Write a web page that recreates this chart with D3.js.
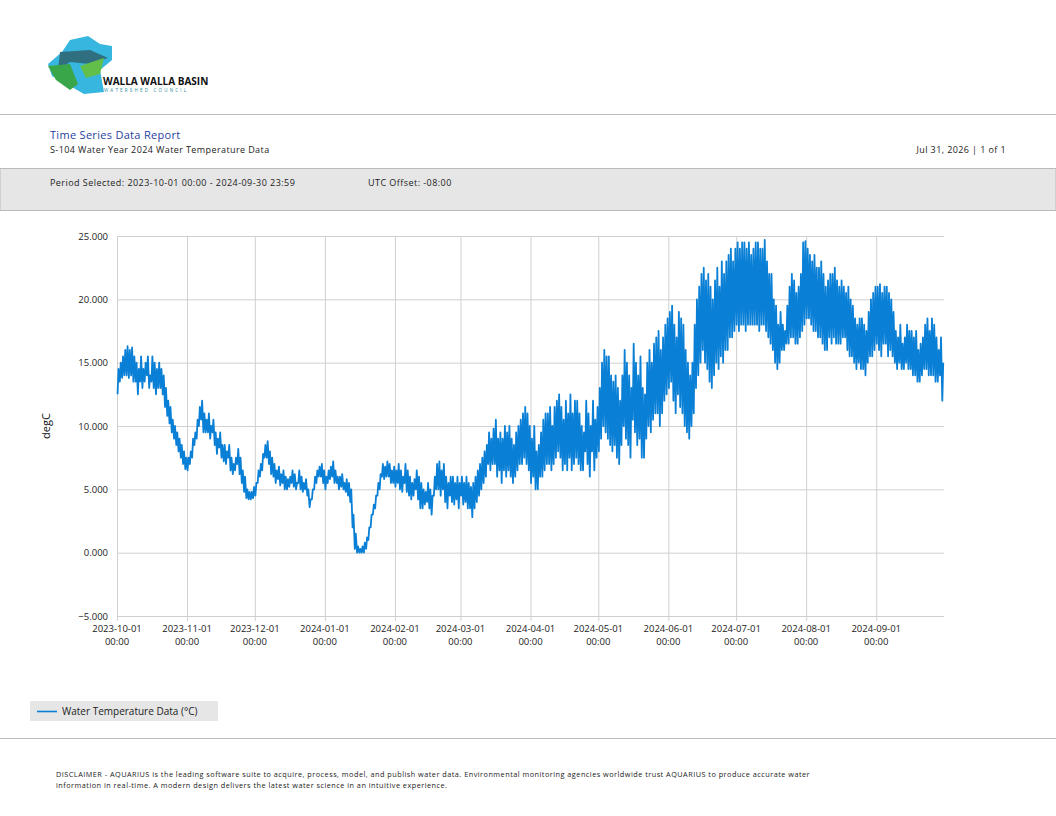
<!doctype html>
<html>
<head>
<meta charset="utf-8"/>
<title>Time Series Data Report</title>
<script src="https://d3js.org/d3.v7.min.js"></script>
<style>
body { margin:0; background:#fff; }
text { font-family: "Open Sans", sans-serif; }
</style>
</head>
<body>
<script>
var dailyMax = [
 14.5,15,15.5,16,16.3, 16,16.2,15.5,15,14.5, 15.5,14.5,15,15.5,14, 15.5,15,14.5,15,14.5, 14,13,12,11.5,10.5, 10,9.5,9,8.5,8,7.5,
 7.5,8,9,9.5,10.5, 11.5,12,11,10.5,11, 10,10.5,9.5,9,9.5, 8.5,8.5,8,8.5,7.5, 7,7.5,8.2,7.5,6.5, 6,5,4.8,4.8,5.2,
 5.5,6.5,7,7.8,8.5, 8.8,8,7.5,7,6.5, 6.8,6.2,6.5,6,5.8, 6,6.5,6.2,5.5,6.5, 6,5.5,5.8,5,4.2, 5,6,6.5,6.8,7,6.5,
 6,6.5,6.8,7.2,6.5, 6,6,6.2,5.5,5.8, 5.5,5,3,1.5,0.5, 0.3,0.5,0.8,1.2,2, 3,3.8,4.5,5.5,6.2, 7,6.8,7.2,7,6.5,6.8,
 6.5,7,6.5,6,7, 6.5,6,5.5,5.8,6.5, 6,5.5,5,4.8,5.5, 5,4.5,6,7,7.2, 6.5,7,6,5.5,6, 6,5.5,6,5.5,
 6,5.5,6,5.5,5.2, 5.5,6,6.5,7,7.5, 8,8.5,9.5,9,9.8, 10.5,9,9.5,9,10, 9.5,10,9,8.5,9.5, 10,10.5,11,11.5,11,10,
 9,10,8,8.5,9.5, 10.5,11,11,11.5,10, 11.5,12,12.5,11.5,10.5, 12,11,12.5,11,12, 12,11,10,9.5,12, 11,10,12,10.5,11.5,
 13,15,16,15.5,15.5, 14,13.5,14,13,12, 14,16,15,14,13, 16.5,15,14,15.5,13, 12.5,15,16,15,16.5, 17,17.5,16,17,18,18.5,
 19,19.5,18,17,19, 18.5,18,16,15,14, 15,18,20,21,22, 22.5,21.5,22,21,20, 21.5,22.5,21,23,22, 23,23.5,24,23,24,
 24.5,24,24.5,24.5,24, 24.5,23.5,24,24.5,24.5, 24,24,24.7,23,22, 22,20,19.5,18,19, 18,17.5,19.5,21,22, 21.5,20.5,21,22,24.5,24.6,
 24,23.5,23,23.5,22.5, 22.5,23,22,21,21.5, 22,22,22.5,21.5,21, 21.5,21,20.5,21,20, 19.5,18.5,18,18.5,18.5, 18,17.5,19,20,20.5,21,
 21,21.2,20.5,21,21, 20.5,20,19,17.5,17, 18,16.5,17,18,17.5, 17.5,17,17.5,16,16.5, 17,18,18.5,17.5,18.5, 18,17,16,17,15
];
var dailyMin = [
 12.5,13.5,13.8,14,14, 13.8,14,13.5,13.5,12.5, 13.5,13,13.5,14,13, 13.5,13,12.5,13,13, 12.5,11.5,10.8,10.2,9.5, 9,8.5,8,7.5,7,6.6,
 6.5,7,7.5,8.5,9, 10,10.5,9.5,9.5,9.5, 9,9.5,8.5,7.8,8.3, 7.5,7.2,7,7.5,6.5, 6.2,6.5,7,6.2,5.5, 4.8,4.3,4.2,4.2,4.3,
 4.5,5.5,6,6.5,7.5, 7.5,7,6.2,6,5.5, 5.8,5.3,5.5,5,5, 5.2,5.5,5.2,5,5.5, 5,4.8,5,4.5,3.6, 4.2,5,5.5,6,6,5.5,
 5,5.5,5.8,6,5.5, 5.5,5,5.2,5,4.8, 4.5,4,2,0.3,0, 0,0,0,0.3,1, 2,3,3.5,4.5,5, 6,5.8,6,6,5.5,5.5,
 5.2,5.5,5,4.8,5.5, 4.8,4.5,4.2,4.5,5, 4.2,3.5,3.5,3.8,4, 3.5,3,4.5,5,5, 4.5,5,4,3.5,4.5, 4,3.8,4.2,3.5,
 4.5,3.8,4,3.5,3.5, 2.8,3.5,4,4.5,5, 5.5,6,7,6.5,7, 7,6,6.5,5.5,6.5, 6,6.5,6,5.5,6, 6.5,7,7,7.5,7,6.5,
 5.5,6,5,5,6, 6,6.5,7,7,6.5, 7,7.5,8,7.5,6.5, 7,6.5,7.5,6.5,7, 7.5,7,6.5,6.5,8, 7,6,8,6.5,7.5,
 8,9,10,9.5,9, 8.5,8,8.5,7.5,7, 8.5,10,9,8.5,7.5, 10.5,9.5,8.5,9,7.5, 7.5,9,10,9.5,10.5, 11,11,10,11,12,12.5,
 13,13.5,12,11,12.5, 11.5,11,10,9.5,9, 10,11,13,14,15, 16,15,14.5,13.5,13, 14,15,14.5,15.5,15, 16,16,17,17,17.5,
 18,17.5,18,18,17.5, 18,18,18,18,18, 17.5,18,18,17.5,17, 16.5,16,15,14.5,15, 16,16,16.5,16.5,17, 17,16.5,16.5,17,17.5,18,
 18.5,18.5,18,17.5,17.5, 17,17,16.5,16,16, 17,16.5,17,16.5,16.5, 16.5,17,17,16,15.5, 15.5,15,14.5,15,14.5, 14.5,14,15,15.5,15.5,16,
 16.5,16,15.5,16.5,16.5, 15.5,16,15.5,15,14.5, 15,14.5,14.5,15,14.5, 14.5,14,14,13.5,13.5, 14,14.5,14.5,14,14, 14,13.5,13.5,14,12
];
var startDate = new Date(2023, 9, 1);
var endDate = new Date(2024, 9, 1);
var yTicks = [-5, 0, 5, 10, 15, 20, 25];
var xTickDates = ["2023-10-01","2023-11-01","2023-12-01","2024-01-01","2024-02-01","2024-03-01","2024-04-01","2024-05-01","2024-06-01","2024-07-01","2024-08-01","2024-09-01"];
var disclaimer = [
 "DISCLAIMER - AQUARIUS is the leading software suite to acquire, process, model, and publish water data. Environmental monitoring agencies worldwide trust AQUARIUS to produce accurate water",
 "information in real-time. A modern design delivers the latest water science in an intuitive experience."
];

var W = 1056, H = 816;
var svg = d3.select("body").append("svg").attr("width", W).attr("height", H);

// logo (approximate)
var logo = svg.append("g");
logo.append("path").attr("d","M70,40 L88,36 L100,44 L112,46 L112,60 L100,70 L104,92 L84,94 L70,86 L52,76 L48,64 L62,52 Z").attr("fill","#37b6df");
logo.append("path").attr("d","M60,52 L90,50 L108,58 L90,64 L70,62 L58,70 Z").attr("fill","#2f6f7f");
logo.append("path").attr("d","M48,66 L70,64 L78,84 L70,90 L56,80 Z").attr("fill","#3aa64a");
logo.append("path").attr("d","M80,66 L104,58 L100,74 L86,78 Z").attr("fill","#62c04a");
logo.append("text").attr("x",103).attr("y",85).attr("font-size",10).attr("font-family","DejaVu Sans Condensed")
  .attr("font-weight","bold").attr("fill","#111").text("WALLA WALLA BASIN");
logo.append("text").attr("x",104).attr("y",92).attr("font-size",4.5).attr("letter-spacing",2.2).attr("fill","#2a8aa0").text("WATERSHED COUNCIL");

// header
svg.append("line").attr("x1",0).attr("x2",W).attr("y1",114.5).attr("y2",114.5).attr("stroke","#bbb");
svg.append("text").attr("x",50).attr("y",139).attr("font-size",11).attr("letter-spacing",0.3).attr("fill","#1f3f9f").text("Time Series Data Report");
svg.append("text").attr("x",50).attr("y",153).attr("font-size",9).attr("letter-spacing",0.4).attr("fill","#222").text("S-104 Water Year 2024 Water Temperature Data");
svg.append("text").attr("x",1006).attr("y",153).attr("font-size",9).attr("letter-spacing",0.4).attr("text-anchor","end").attr("fill","#222").text("Jul 31, 2026 | 1 of 1");
svg.append("rect").attr("x",0).attr("y",168.5).attr("width",W).attr("height",42).attr("fill","#e6e6e6").attr("stroke","#bbb");
svg.append("text").attr("x",50).attr("y",186).attr("font-size",9).attr("letter-spacing",0.45).attr("fill","#222").text("Period Selected: 2023-10-01 00:00 - 2024-09-30 23:59");
svg.append("text").attr("x",368).attr("y",186).attr("font-size",9).attr("letter-spacing",0.45).attr("fill","#222").text("UTC Offset: -08:00");

// chart
var x = d3.scaleTime().domain([startDate, endDate]).range([117, 944]);
var y = d3.scaleLinear().domain([-5, 25]).range([616, 236]);
var parse = d3.timeParse("%Y-%m-%d");

var g = svg.append("g");
g.selectAll(".hg").data(yTicks).enter().append("line")
  .attr("x1",117).attr("x2",944).attr("y1",d=>y(d)+0.5).attr("y2",d=>y(d)+0.5).attr("stroke","#d0d0d0");
g.selectAll(".vg").data(xTickDates).enter().append("line")
  .attr("x1",d=>x(parse(d))+0.5).attr("x2",d=>x(parse(d))+0.5).attr("y1",236).attr("y2",621).attr("stroke","#d0d0d0");
g.selectAll(".yl").data(yTicks).enter().append("text")
  .attr("x",108).attr("y",d=>y(d)+3.5).attr("text-anchor","end").attr("font-size",9.5).attr("fill","#222")
  .text(d=>d3.format(".3f")(d));
var xl = g.selectAll(".xl").data(xTickDates).enter().append("text")
  .attr("text-anchor","middle").attr("font-size",9.5).attr("fill","#222");
xl.append("tspan").attr("x",d=>x(parse(d))).attr("y",632).text(d=>d);
xl.append("tspan").attr("x",d=>x(parse(d))).attr("y",645).text("00:00");
svg.append("text").attr("transform","translate(50,426) rotate(-90)").attr("text-anchor","middle")
  .attr("font-size",11).attr("fill","#111").text("degC");

var pts = [];
dailyMin.forEach(function(mn, i) {
  var day = d3.timeDay.offset(startDate, i);
  pts.push([d3.timeHour.offset(day, 6), mn]);
  pts.push([d3.timeHour.offset(day, 16), dailyMax[i]]);
});
g.append("path").datum(pts)
  .attr("d", d3.line().x(d=>x(d[0])).y(d=>y(d[1])))
  .attr("fill","none").attr("stroke","#0a7fd6").attr("stroke-width",1.8).attr("stroke-linejoin","round");

// legend
svg.append("rect").attr("x",30).attr("y",701).attr("width",188).attr("height",20).attr("fill","#e6e6e6");
svg.append("line").attr("x1",37).attr("x2",57).attr("y1",711.5).attr("y2",711.5).attr("stroke","#0a7fd6").attr("stroke-width",1.6);
svg.append("text").attr("x",62).attr("y",715).attr("font-size",10).attr("font-family","Liberation Sans").attr("fill","#222").text("Water Temperature Data (°C)");

// footer
svg.append("line").attr("x1",0).attr("x2",W).attr("y1",738.5).attr("y2",738.5).attr("stroke","#bbb");
svg.selectAll(".disc").data(disclaimer).enter().append("text")
  .attr("x",56).attr("y",(d,i)=>777+i*11).attr("font-size",7.3).attr("letter-spacing",0.48).attr("fill","#222").text(d=>d);
</script>
</body>
</html>
